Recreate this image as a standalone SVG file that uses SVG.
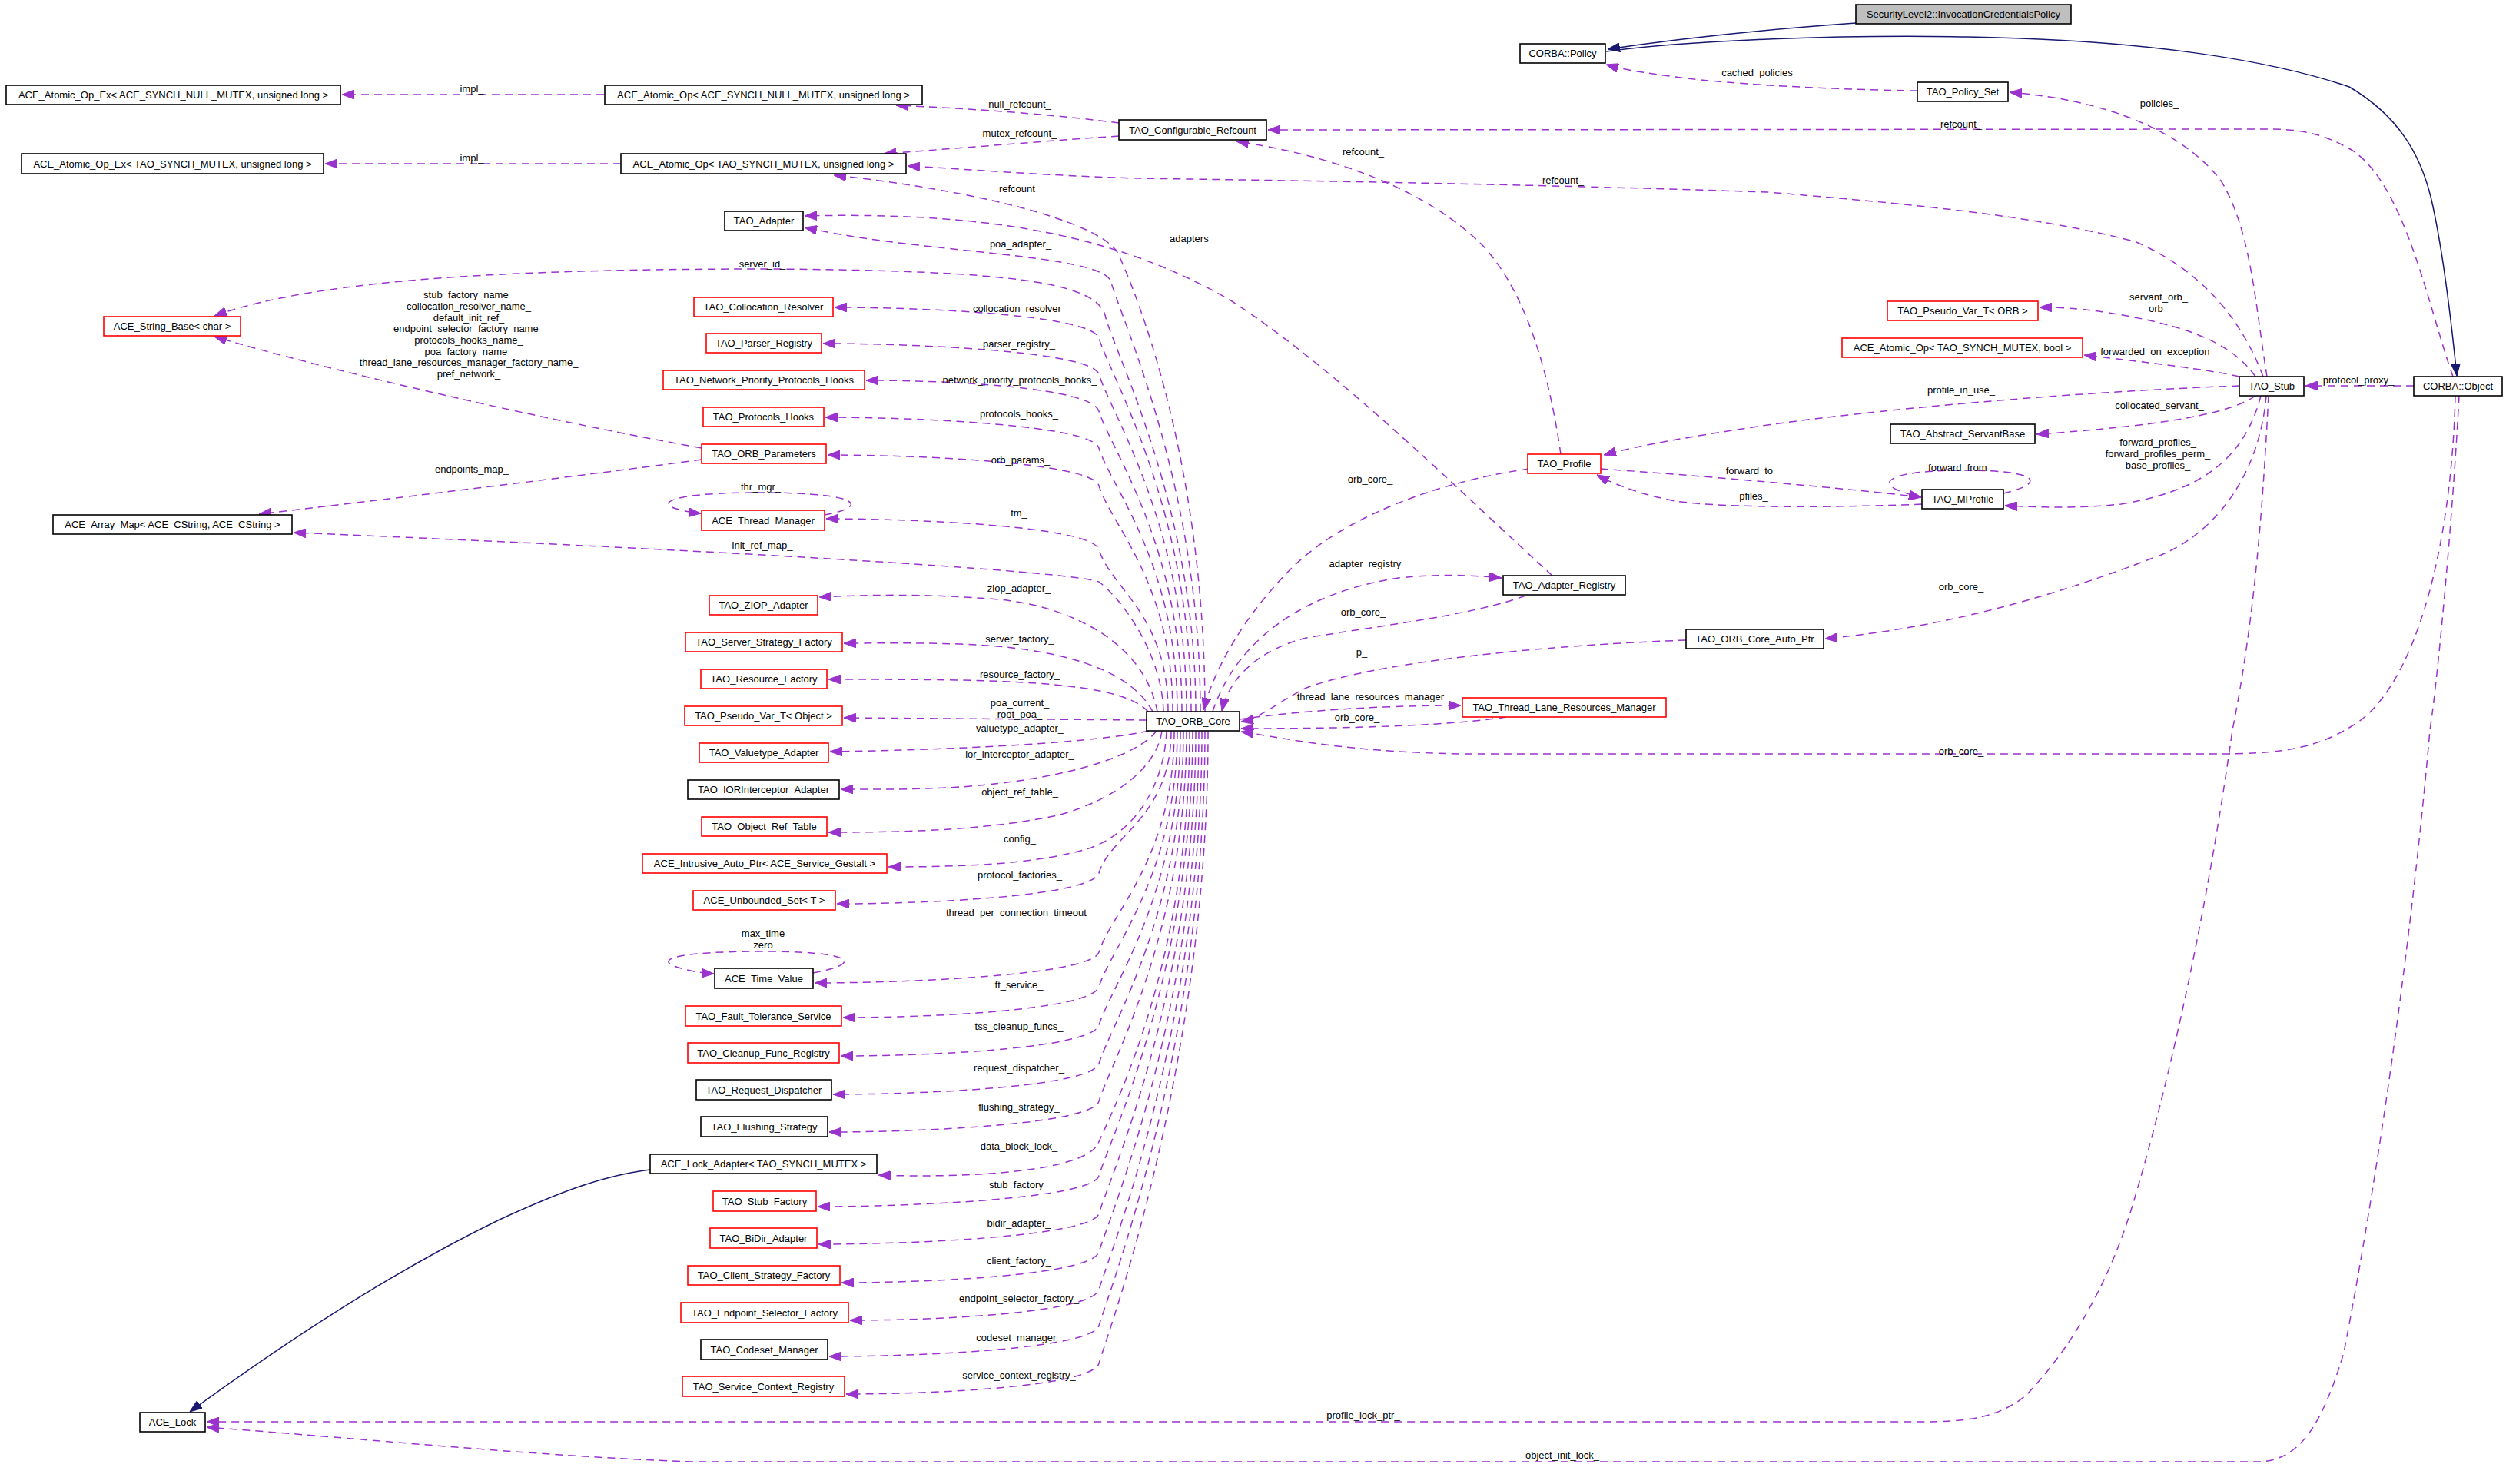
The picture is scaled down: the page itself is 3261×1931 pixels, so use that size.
<svg xmlns="http://www.w3.org/2000/svg" width="3261" height="1931" viewBox="0 0 3261 1931">
<style>
.nb{fill:#ffffff;stroke:#000000;stroke-width:1.6}
.nr{fill:#ffffff;stroke:#ff0000;stroke-width:1.6}
.ng{fill:#bfbfbf;stroke:#000000;stroke-width:1.6}
.t{font-family:"Liberation Sans",Arial,sans-serif;font-size:13px;fill:#000000;text-anchor:middle}
.l{font-family:"Liberation Sans",Arial,sans-serif;font-size:13px;fill:#000000;text-anchor:middle}
.e{fill:none;stroke:#9a32cd;stroke-width:1.5;stroke-dasharray:10,7;marker-end:url(#ap)}
.i{fill:none;stroke:#191970;stroke-width:1.5;marker-end:url(#ab)}
</style>
<defs>
<marker id="ap" markerUnits="userSpaceOnUse" markerWidth="16" markerHeight="12" refX="16" refY="6" orient="auto"><path d="M0,0 L16,6 L0,12 z" fill="#9a32cd" stroke="#9a32cd" stroke-dasharray="none"/></marker>
<marker id="ab" markerUnits="userSpaceOnUse" markerWidth="16" markerHeight="12" refX="16" refY="6" orient="auto"><path d="M0,0 L16,6 L0,12 z" fill="#191970" stroke="#191970" stroke-dasharray="none"/></marker>
</defs>
<rect x="0" y="0" width="3261" height="1931" fill="#ffffff"/>

<g id="edges">
<!-- inheritance -->
<path class="i" d="M2415,30 C2330,36 2200,48 2092,64"/>
<path class="i" d="M2090,67 C2200,52 2400,45 2560,48 C2800,52 2960,80 3057,113 C3120,150 3150,200 3164,260 C3180,330 3190,420 3197,489"/>
<path class="i" d="M846,1522 C780,1530 720,1555 650,1587 C520,1650 380,1740 247,1837"/>

<!-- top area -->
<path class="e" d="M786,123 L445,123"/>
<path class="e" d="M808,213 L423,213"/>
<path class="e" d="M1456,160 C1380,150 1280,142 1166,137"/>
<path class="e" d="M1456,177 C1380,182 1260,192 1150,200"/>
<path class="e" d="M2495,118 C2400,117 2250,110 2180,100 C2140,95 2110,90 2090,84"/>
<path class="e" d="M2950,490 C2935,400 2930,300 2890,235 C2840,170 2740,130 2615,120"/>
<path class="e" d="M3192,490 C3160,400 3130,240 3060,195 C3020,172 2990,168 2950,168 L1650,169"/>
<path class="e" d="M2945,490 C2915,410 2860,350 2780,315 C2650,280 2480,265 2300,250 C2000,240 1700,235 1480,232 C1350,228 1260,220 1181,216"/>
<path class="e" d="M2031,591 C2015,480 1985,380 1930,320 C1850,240 1720,200 1609,184"/>
<path class="e" d="M2020,749 C1900,640 1740,480 1600,390 C1460,310 1300,275 1047,281"/>

<!-- ORB_Core to upper nodes -->
<path class="e" d="M1568,926 C1568,600 1478,380 1455,330 C1430,285 1250,245 1085,228"/>
<path class="e" d="M1562,926 C1562,640 1465,430 1445,365 C1428,330 1200,330 1047,296"/>
<path class="e" d="M1556,926 C1556,660 1450,460 1438,410 C1425,365 1300,352 1000,350 C700,350 420,360 279,411"/>
<path class="e" d="M1550,926 C1550,663 1445,490 1430,440 C1421,410 1206,400 1086,400"/>
<path class="e" d="M1544,926 C1544,686 1445,537 1430,487 C1421,457 1191,447 1071,447"/>
<path class="e" d="M1538,926 C1538,710 1445,585 1430,535 C1421,505 1247,495 1127,495"/>
<path class="e" d="M1532,926 C1532,734 1445,633 1430,583 C1421,553 1194,543 1074,543"/>
<path class="e" d="M1526,926 C1526,759 1445,682 1430,632 C1421,602 1197,592 1077,592"/>
<path class="e" d="M1520,926 C1520,800 1445,765 1430,715 C1421,685 1195,675 1075,675"/>
<path class="e" d="M1514,926 C1512,850 1460,780 1430,757 C1380,740 800,710 382,693"/>
<path class="e" d="M1506,926 C1490,840 1400,790 1300,780 C1200,772 1130,774 1066,777"/>
<path class="e" d="M1500,926 C1470,870 1380,843 1250,838 C1180,836 1140,837 1098,837"/>
<path class="e" d="M1494,926 C1470,900 1400,888 1250,885 C1180,884 1130,884 1078,884"/>
<path class="e" d="M1492,937 L1098,934"/>

<!-- ORB_Core to lower nodes -->
<path class="e" d="M1495,951 C1450,962 1300,975 1080,978"/>
<path class="e" d="M1505,951 C1480,985 1380,1015 1250,1024 C1180,1028 1140,1027 1094,1027"/>
<path class="e" d="M1512,951 C1505,1000 1450,1040 1380,1060 C1280,1082 1160,1083 1078,1083"/>
<path class="e" d="M1518,951 C1515,1020 1480,1080 1420,1103 C1350,1125 1250,1128 1156,1128"/>
<path class="e" d="M1524,951 C1524,1063 1445,1086 1430,1136 C1421,1166 1209,1176 1089,1176"/>
<path class="e" d="M1528,951 C1528,1115 1445,1189 1430,1239 C1421,1269 1180,1279 1060,1279"/>
<path class="e" d="M1532,951 C1532,1137 1445,1234 1430,1284 C1421,1314 1217,1324 1097,1324"/>
<path class="e" d="M1536,951 C1536,1162 1445,1284 1430,1334 C1421,1364 1214,1374 1094,1374"/>
<path class="e" d="M1540,951 C1540,1187 1445,1334 1430,1384 C1421,1414 1204,1424 1084,1424"/>
<path class="e" d="M1544,951 C1544,1212 1445,1383 1430,1433 C1421,1463 1199,1473 1079,1473"/>
<path class="e" d="M1548,951 C1548,1250 1450,1440 1428,1490 C1405,1525 1260,1533 1143,1529"/>
<path class="e" d="M1552,951 C1552,1260 1445,1480 1430,1530 C1421,1560 1184,1570 1064,1570"/>
<path class="e" d="M1556,951 C1556,1285 1445,1529 1430,1579 C1421,1609 1185,1619 1065,1619"/>
<path class="e" d="M1560,951 C1560,1310 1445,1579 1430,1629 C1421,1659 1215,1669 1095,1669"/>
<path class="e" d="M1564,951 C1564,1334 1445,1628 1430,1678 C1421,1708 1226,1718 1106,1718"/>
<path class="e" d="M1568,951 C1568,1358 1445,1675 1430,1725 C1421,1755 1199,1765 1079,1765"/>
<path class="e" d="M1572,951 C1572,1382 1445,1724 1430,1774 C1421,1804 1221,1814 1101,1814"/>

<!-- self loops and left side -->
<path class="e" d="M1073,670 C1130,660 1125,641 990,641 C870,641 855,655 880,662 C890,665 900,667 912,668"/>
<path class="e" d="M1058,1266 C1120,1255 1120,1238 993,1238 C870,1238 855,1250 880,1258 C895,1263 910,1266 929,1267"/>
<path class="e" d="M913,583 C700,545 420,480 279,438"/>
<path class="e" d="M913,598 C750,620 500,650 337,669"/>

<!-- right side of ORB_Core -->
<path class="e" d="M1990,610 C1880,625 1750,670 1680,740 C1620,800 1580,870 1566,924"/>
<path class="e" d="M1985,775 C1920,800 1790,815 1700,830 C1640,845 1600,880 1590,925"/>
<path class="e" d="M1578,926 C1610,830 1700,770 1820,752 C1880,746 1920,749 1954,752"/>
<path class="e" d="M2194,833 C2000,840 1790,862 1700,895 C1660,915 1640,935 1615,939"/>
<path class="e" d="M1613,936 C1700,924 1800,918 1901,918"/>
<path class="e" d="M1960,933 C1880,945 1750,948 1615,948"/>
<path class="e" d="M3195,515 C3190,720 3140,900 3060,945 C3020,970 2980,980 2900,981 L1900,981 C1750,978 1680,962 1615,952"/>

<!-- Stub / Profile -->
<path class="e" d="M2935,490 C2900,440 2830,420 2731,405 C2700,401 2680,400 2654,400"/>
<path class="e" d="M2914,490 C2880,482 2800,472 2712,462"/>
<path class="e" d="M2914,502 C2700,510 2450,532 2300,553 C2200,568 2130,580 2087,592"/>
<path class="e" d="M2935,515 C2900,540 2800,555 2650,565"/>
<path class="e" d="M2942,515 C2920,600 2860,640 2760,656 C2700,662 2660,660 2609,658"/>
<path class="e" d="M2949,515 C2940,620 2880,700 2799,727 C2700,765 2550,815 2375,831"/>
<path class="e" d="M3141,502 L3000,502"/>
<path class="e" d="M2501,656 C2400,660 2250,662 2180,652 C2130,642 2100,630 2078,618"/>
<path class="e" d="M2083,610 C2200,618 2400,635 2500,647"/>
<path class="e" d="M2607,642 C2660,630 2660,612 2555,612 C2470,612 2440,625 2470,638 C2480,642 2490,645 2500,647"/>

<!-- ACE_Lock -->
<path class="e" d="M2952,515 C2945,650 2935,800 2905,950 C2870,1200 2820,1420 2773,1575 C2740,1680 2690,1760 2636,1816 C2600,1845 2560,1850 2500,1850 L269,1850"/>
<path class="e" d="M3200,515 C3190,700 3170,900 3162,950 C3140,1200 3100,1500 3050,1760 C3020,1860 2990,1900 2940,1902 L900,1902 C700,1895 450,1870 269,1857"/>
</g>

<g id="labels">
<text class="l" x="614" y="120">impl_</text>
<text class="l" x="614" y="210">impl_</text>
<text class="l" x="1327" y="140">null_refcount_</text>
<text class="l" x="1327" y="178">mutex_refcount_</text>
<text class="l" x="2290" y="99">cached_policies_</text>
<text class="l" x="2810" y="139">policies_</text>
<text class="l" x="2552" y="166">refcount_</text>
<text class="l" x="1774" y="202">refcount_</text>
<text class="l" x="2034" y="239">refcount_</text>
<text class="l" x="1327" y="250">refcount_</text>
<text class="l" x="1551" y="315">adapters_</text>
<text class="l" x="1328" y="322">poa_adapter_</text>
<text class="l" x="992" y="348">server_id_</text>
<text class="l" x="610" y="388">stub_factory_name_</text>
<text class="l" x="610" y="403">collocation_resolver_name_</text>
<text class="l" x="610" y="418">default_init_ref_</text>
<text class="l" x="610" y="432">endpoint_selector_factory_name_</text>
<text class="l" x="610" y="447">protocols_hooks_name_</text>
<text class="l" x="610" y="462">poa_factory_name_</text>
<text class="l" x="610" y="476">thread_lane_resources_manager_factory_name_</text>
<text class="l" x="610" y="491">pref_network_</text>
<text class="l" x="1327" y="406">collocation_resolver_</text>
<text class="l" x="1326" y="452">parser_registry_</text>
<text class="l" x="1327" y="499">network_priority_protocols_hooks_</text>
<text class="l" x="1326" y="543">protocols_hooks_</text>
<text class="l" x="1328" y="603">orb_params_</text>
<text class="l" x="614" y="615">endpoints_map_</text>
<text class="l" x="990" y="638">thr_mgr_</text>
<text class="l" x="1326" y="672">tm_</text>
<text class="l" x="992" y="714">init_ref_map_</text>
<text class="l" x="1326" y="770">ziop_adapter_</text>
<text class="l" x="1327" y="836">server_factory_</text>
<text class="l" x="1327" y="882">resource_factory_</text>
<text class="l" x="1327" y="919">poa_current_</text>
<text class="l" x="1327" y="934">root_poa_</text>
<text class="l" x="1327" y="952">valuetype_adapter_</text>
<text class="l" x="1327" y="986">ior_interceptor_adapter_</text>
<text class="l" x="1327" y="1035">object_ref_table_</text>
<text class="l" x="1327" y="1096">config_</text>
<text class="l" x="1327" y="1143">protocol_factories_</text>
<text class="l" x="1326" y="1192">thread_per_connection_timeout_</text>
<text class="l" x="993" y="1219">max_time</text>
<text class="l" x="993" y="1234">zero</text>
<text class="l" x="1326" y="1286">ft_service_</text>
<text class="l" x="1326" y="1340">tss_cleanup_funcs_</text>
<text class="l" x="1326" y="1394">request_dispatcher_</text>
<text class="l" x="1326" y="1445">flushing_strategy_</text>
<text class="l" x="1326" y="1496">data_block_lock_</text>
<text class="l" x="1326" y="1546">stub_factory_</text>
<text class="l" x="1326" y="1596">bidir_adapter_</text>
<text class="l" x="1326" y="1645">client_factory_</text>
<text class="l" x="1326" y="1694">endpoint_selector_factory_</text>
<text class="l" x="1326" y="1745">codeset_manager_</text>
<text class="l" x="1326" y="1794">service_context_registry_</text>
<text class="l" x="1774" y="1846">profile_lock_ptr_</text>
<text class="l" x="2033" y="1898">object_init_lock_</text>
<text class="l" x="1783" y="628">orb_core_</text>
<text class="l" x="1780" y="738">adapter_registry_</text>
<text class="l" x="1774" y="801">orb_core_</text>
<text class="l" x="1772" y="853">p_</text>
<text class="l" x="1787" y="911">thread_lane_resources_manager_</text>
<text class="l" x="1766" y="938">orb_core_</text>
<text class="l" x="2552" y="982">orb_core_</text>
<text class="l" x="2552" y="768">orb_core_</text>
<text class="l" x="2552" y="512">profile_in_use_</text>
<text class="l" x="2280" y="617">forward_to_</text>
<text class="l" x="2282" y="650">pfiles_</text>
<text class="l" x="2551" y="613">forward_from_</text>
<text class="l" x="2809" y="391">servant_orb_</text>
<text class="l" x="2809" y="406">orb_</text>
<text class="l" x="2808" y="462">forwarded_on_exception_</text>
<text class="l" x="3069" y="499">protocol_proxy_</text>
<text class="l" x="2810" y="532">collocated_servant_</text>
<text class="l" x="2808" y="580">forward_profiles_</text>
<text class="l" x="2808" y="595">forward_profiles_perm_</text>
<text class="l" x="2808" y="610">base_profiles_</text>
</g>

<g id="n_sl2"><rect class="ng" x="2415" y="6" width="280" height="25"/><text class="t" x="2555" y="23">SecurityLevel2::InvocationCredentialsPolicy</text></g>
<g id="n_corba_policy"><rect class="nb" x="1978" y="57" width="111" height="25"/><text class="t" x="2033.5" y="74">CORBA::Policy</text></g>
<g id="n_policy_set"><rect class="nb" x="2495" y="107" width="118" height="25"/><text class="t" x="2554" y="124">TAO_Policy_Set</text></g>
<g id="n_atomic_ex_null"><rect class="nb" x="8" y="111" width="435" height="25"/><text class="t" x="225.5" y="128">ACE_Atomic_Op_Ex&lt; ACE_SYNCH_NULL_MUTEX, unsigned long &gt;</text></g>
<g id="n_atomic_null"><rect class="nb" x="787" y="111" width="413" height="25"/><text class="t" x="993.5" y="128">ACE_Atomic_Op&lt; ACE_SYNCH_NULL_MUTEX, unsigned long &gt;</text></g>
<g id="n_conf_refcount"><rect class="nb" x="1456" y="156" width="192" height="26"/><text class="t" x="1552" y="173.5">TAO_Configurable_Refcount</text></g>
<g id="n_atomic_ex_tao"><rect class="nb" x="28" y="200" width="393" height="26"/><text class="t" x="224.5" y="217.5">ACE_Atomic_Op_Ex&lt; TAO_SYNCH_MUTEX, unsigned long &gt;</text></g>
<g id="n_atomic_tao"><rect class="nb" x="808" y="200" width="371" height="26"/><text class="t" x="993.5" y="217.5">ACE_Atomic_Op&lt; TAO_SYNCH_MUTEX, unsigned long &gt;</text></g>
<g id="n_adapter"><rect class="nb" x="943" y="275" width="102" height="25"/><text class="t" x="994" y="292">TAO_Adapter</text></g>
<g id="n_string_base"><rect class="nr" x="135" y="412" width="178" height="25"/><text class="t" x="224" y="429">ACE_String_Base&lt; char &gt;</text></g>
<g id="n_colloc"><rect class="nr" x="903" y="387" width="181" height="25"/><text class="t" x="993.5" y="404">TAO_Collocation_Resolver</text></g>
<g id="n_parser"><rect class="nr" x="919" y="434" width="150" height="25"/><text class="t" x="994" y="451">TAO_Parser_Registry</text></g>
<g id="n_nph"><rect class="nr" x="863" y="482" width="262" height="25"/><text class="t" x="994" y="499">TAO_Network_Priority_Protocols_Hooks</text></g>
<g id="n_protocols_hooks"><rect class="nr" x="915" y="530" width="157" height="25"/><text class="t" x="993.5" y="547">TAO_Protocols_Hooks</text></g>
<g id="n_orb_params"><rect class="nr" x="913" y="578" width="162" height="25"/><text class="t" x="994" y="595">TAO_ORB_Parameters</text></g>
<g id="n_array_map"><rect class="nb" x="69" y="670" width="311" height="25"/><text class="t" x="224.5" y="687">ACE_Array_Map&lt; ACE_CString, ACE_CString &gt;</text></g>
<g id="n_thread_mgr"><rect class="nr" x="913" y="664" width="160" height="26"/><text class="t" x="993" y="681.5">ACE_Thread_Manager</text></g>
<g id="n_ziop"><rect class="nr" x="923" y="775" width="141" height="25"/><text class="t" x="993.5" y="792">TAO_ZIOP_Adapter</text></g>
<g id="n_server_sf"><rect class="nr" x="892" y="823" width="204" height="25"/><text class="t" x="994" y="840">TAO_Server_Strategy_Factory</text></g>
<g id="n_resource_f"><rect class="nr" x="912" y="871" width="164" height="25"/><text class="t" x="994" y="888">TAO_Resource_Factory</text></g>
<g id="n_pseudo_obj"><rect class="nr" x="891" y="919" width="205" height="25"/><text class="t" x="993.5" y="936">TAO_Pseudo_Var_T&lt; Object &gt;</text></g>
<g id="n_valuetype"><rect class="nr" x="910" y="967" width="168" height="25"/><text class="t" x="994" y="984">TAO_Valuetype_Adapter</text></g>
<g id="n_ior"><rect class="nb" x="895" y="1015" width="197" height="25"/><text class="t" x="993.5" y="1032">TAO_IORInterceptor_Adapter</text></g>
<g id="n_objref"><rect class="nr" x="913" y="1063" width="163" height="25"/><text class="t" x="994.5" y="1080">TAO_Object_Ref_Table</text></g>
<g id="n_intrusive"><rect class="nr" x="836" y="1111" width="318" height="25"/><text class="t" x="995" y="1128">ACE_Intrusive_Auto_Ptr&lt; ACE_Service_Gestalt &gt;</text></g>
<g id="n_unbounded"><rect class="nr" x="902" y="1159" width="185" height="25"/><text class="t" x="994.5" y="1176">ACE_Unbounded_Set&lt; T &gt;</text></g>
<g id="n_time_value"><rect class="nb" x="930" y="1260" width="128" height="26"/><text class="t" x="994" y="1277.5">ACE_Time_Value</text></g>
<g id="n_ft"><rect class="nr" x="892" y="1309" width="203" height="26"/><text class="t" x="993.5" y="1326.5">TAO_Fault_Tolerance_Service</text></g>
<g id="n_cleanup"><rect class="nr" x="895" y="1357" width="197" height="26"/><text class="t" x="993.5" y="1374.5">TAO_Cleanup_Func_Registry</text></g>
<g id="n_request"><rect class="nb" x="906" y="1405" width="176" height="26"/><text class="t" x="994" y="1422.5">TAO_Request_Dispatcher</text></g>
<g id="n_flushing"><rect class="nb" x="912" y="1453" width="165" height="26"/><text class="t" x="994.5" y="1470.5">TAO_Flushing_Strategy</text></g>
<g id="n_lock_adapter"><rect class="nb" x="846" y="1502" width="295" height="25"/><text class="t" x="993.5" y="1519">ACE_Lock_Adapter&lt; TAO_SYNCH_MUTEX &gt;</text></g>
<g id="n_stub_factory"><rect class="nr" x="928" y="1550" width="134" height="26"/><text class="t" x="995" y="1567.5">TAO_Stub_Factory</text></g>
<g id="n_bidir"><rect class="nr" x="924" y="1598" width="139" height="26"/><text class="t" x="993.5" y="1615.5">TAO_BiDir_Adapter</text></g>
<g id="n_client_sf"><rect class="nr" x="895" y="1647" width="198" height="25"/><text class="t" x="994" y="1664">TAO_Client_Strategy_Factory</text></g>
<g id="n_endpoint_sf"><rect class="nr" x="886" y="1695" width="218" height="26"/><text class="t" x="995" y="1712.5">TAO_Endpoint_Selector_Factory</text></g>
<g id="n_codeset"><rect class="nb" x="912" y="1743" width="165" height="26"/><text class="t" x="994.5" y="1760.5">TAO_Codeset_Manager</text></g>
<g id="n_service_ctx"><rect class="nr" x="888" y="1791" width="211" height="26"/><text class="t" x="993.5" y="1808.5">TAO_Service_Context_Registry</text></g>
<g id="n_ace_lock"><rect class="nb" x="182" y="1838" width="85" height="25"/><text class="t" x="224.5" y="1855">ACE_Lock</text></g>
<g id="n_orb_core"><rect class="nb" x="1492" y="926" width="121" height="25"/><text class="t" x="1552.5" y="943">TAO_ORB_Core</text></g>
<g id="n_profile"><rect class="nr" x="1988" y="591" width="95" height="25"/><text class="t" x="2035.5" y="608">TAO_Profile</text></g>
<g id="n_mprofile"><rect class="nb" x="2501" y="637" width="106" height="25"/><text class="t" x="2554" y="654">TAO_MProfile</text></g>
<g id="n_adapter_registry"><rect class="nb" x="1956" y="749" width="159" height="25"/><text class="t" x="2035.5" y="766">TAO_Adapter_Registry</text></g>
<g id="n_core_auto_ptr"><rect class="nb" x="2194" y="819" width="179" height="25"/><text class="t" x="2283.5" y="836">TAO_ORB_Core_Auto_Ptr</text></g>
<g id="n_tlrm"><rect class="nr" x="1903" y="908" width="265" height="25"/><text class="t" x="2035.5" y="925">TAO_Thread_Lane_Resources_Manager</text></g>
<g id="n_pseudo_orb"><rect class="nr" x="2456" y="392" width="196" height="25"/><text class="t" x="2554" y="409">TAO_Pseudo_Var_T&lt; ORB &gt;</text></g>
<g id="n_atomic_bool"><rect class="nr" x="2397" y="440" width="313" height="25"/><text class="t" x="2553.5" y="457">ACE_Atomic_Op&lt; TAO_SYNCH_MUTEX, bool &gt;</text></g>
<g id="n_servant_base"><rect class="nb" x="2460" y="552" width="188" height="25"/><text class="t" x="2554" y="569">TAO_Abstract_ServantBase</text></g>
<g id="n_stub"><rect class="nb" x="2914" y="490" width="84" height="25"/><text class="t" x="2956" y="507">TAO_Stub</text></g>
<g id="n_corba_object"><rect class="nb" x="3141" y="490" width="115" height="25"/><text class="t" x="3198.5" y="507">CORBA::Object</text></g>
</svg>
